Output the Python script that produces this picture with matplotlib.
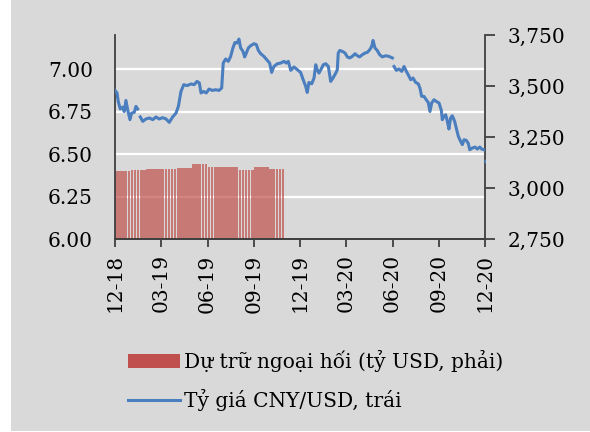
import matplotlib.pyplot as plt
from matplotlib.patches import Rectangle, Patch
from matplotlib.lines import Line2D
import numpy as np

plt.rcParams['font.family'] = ['DejaVu Serif', 'Liberation Serif']

# x = months since Dec 2018 (0 = 12-18, 24 = 12-20), NaN = gap in the series
fx_month = [0.00, 0.13, 0.21, 0.34, 0.50, 0.60, 0.71, 0.82, 0.97, 1.08, 1.25, 1.36, 1.47, np.nan,
            1.64, 1.80, 2.01, 2.22, 2.45, 2.66, 2.87, 3.09, 3.31, 3.52, 3.74, 3.96, 4.11, 4.28,
            4.46, 4.67, 4.93, 5.14, 5.32, 5.47, 5.58, 5.75, 5.92, 6.10, 6.31, 6.53, 6.75, 6.92,
            7.02, 7.18, 7.35, 7.50, 7.65, 7.78, 7.93, 8.04, 8.15, 8.30, 8.41, 8.52, 8.65, 8.80,
            9.02, 9.17, 9.30, 9.45, 9.66, 9.88, 10.03, 10.16, 10.31, 10.53, 10.75, 10.96, 11.11,
            11.24, 11.40, 11.61, 11.82, 12.04, 12.19, 12.37, 12.47, 12.58, 12.76, 12.91, 13.02,
            13.12, 13.23, 13.41, 13.51, 13.67, 13.84, 13.99, 14.14, 14.32, 14.42, 14.48, 14.58,
            14.74, 14.92, 15.07, 15.22, 15.39, 15.57, 15.72, 15.87, 16.04, 16.22, 16.37, 16.52,
            16.65, 16.74, 16.86, 17.01, 17.17, 17.34, 17.56, 17.77, 17.99, np.nan,
            18.10, 18.25, 18.42, 18.60, 18.75, 18.90, 19.02, 19.18, 19.33, 19.50, 19.67, 19.78,
            19.89, 20.04, 20.19, 20.32, 20.43, 20.54, 20.69, 20.84, 21.02, 21.17, 21.23, 21.34,
            21.45, 21.56, 21.66, 21.77, 21.88, 22.03, 22.16, 22.27, 22.42, 22.53, 22.64, 22.79,
            22.92, 23.01, 23.18, 23.35, 23.50, 23.66, 23.79, 23.94]
fx_rate = [6.874, 6.859, 6.809, 6.765, 6.776, 6.750, 6.815, 6.761, 6.702, 6.741, 6.745, 6.780, 6.765, np.nan,
           6.718, 6.692, 6.706, 6.712, 6.702, 6.718, 6.706, 6.714, 6.706, 6.686, 6.718, 6.741, 6.780, 6.868,
           6.908, 6.902, 6.912, 6.908, 6.927, 6.918, 6.859, 6.868, 6.859, 6.882, 6.874, 6.878, 6.874, 6.888,
           7.035, 7.059, 7.045, 7.074, 7.124, 7.156, 7.153, 7.176, 7.124, 7.104, 7.071, 7.094, 7.124, 7.137,
           7.149, 7.143, 7.109, 7.090, 7.074, 7.051, 7.035, 6.980, 7.015, 7.031, 7.035, 7.045, 7.035,
           7.045, 6.992, 7.012, 6.996, 6.980, 6.941, 6.898, 6.862, 6.921, 6.913, 6.947, 7.025,
           6.996, 6.976, 7.006, 7.025, 7.031, 7.015, 6.927, 6.947, 6.976, 6.996, 7.094, 7.109,
           7.104, 7.094, 7.071, 7.065, 7.074, 7.090, 7.078, 7.071, 7.084, 7.094, 7.098, 7.113,
           7.133, 7.168, 7.124, 7.109, 7.084, 7.071, 7.078, 7.074, 7.065, np.nan,
           7.015, 6.992, 7.000, 6.986, 7.015, 6.986, 6.966, 6.937, 6.947, 6.921, 6.913, 6.888,
           6.839, 6.839, 6.819, 6.803, 6.750, 6.800, 6.819, 6.809, 6.800, 6.756, 6.702, 6.721,
           6.731, 6.692, 6.647, 6.712, 6.725, 6.692, 6.643, 6.604, 6.574, 6.555, 6.584, 6.580,
           6.561, 6.525, 6.535, 6.541, 6.529, 6.541, 6.529, 6.525]
fx_last_month = 24.05
fx_last_rate = 6.456

# monthly FX reserves, bn USD (Dec 2018 .. Oct 2019)
res_month = [0, 1, 2, 3, 4, 5, 6, 7, 8, 9, 10]
reserves = [3084, 3087, 3094, 3092, 3098, 3117, 3102, 3103, 3089, 3102, 3092]

xtick_pos = [0, 3, 6, 9, 12, 15, 18, 21, 24]
xtick_lab = ['12-18', '03-19', '06-19', '09-19', '12-19', '03-20', '06-20', '09-20', '12-20']

bg = '#D9D9D9'
red = '#C0504D'
blue = '#4A7EBF'
spine_c = '#404040'
fs = 14.5

fig = plt.figure(figsize=(5.9, 4.32), dpi=100)
fig.patch.set_facecolor('white')
fig.patches.append(Rectangle((11 / 590, 1 / 432), 1 - 11 / 590, 1 - 1 / 432,
                             transform=fig.transFigure, facecolor=bg, edgecolor='none', zorder=-10))

ax = fig.add_axes([115 / 590, 1 - 239 / 432, 370 / 590, 204 / 432])
ax2 = ax.twinx()
ax.set_zorder(ax2.get_zorder() + 1)
ax.patch.set_visible(False)
ax2.patch.set_facecolor(bg)

# bars drawn as thin sub-bars like the daily bars in the source
n_sub = 5
for m, v in zip(res_month, reserves):
    pos = m + (np.arange(n_sub) + 0.5) / n_sub
    ax2.bar(pos, [v] * n_sub, width=0.85 / n_sub, bottom=0, color=red, alpha=0.7,
            linewidth=0, zorder=2)
ax2.set_ylim(2750, 3750)
ax2.set_yticks([2750, 3000, 3250, 3500, 3750])
ax2.set_yticklabels(['2,750', '3,000', '3,250', '3,500', '3,750'])

ax.plot(fx_month, fx_rate, color=blue, lw=2.2, zorder=3)
ax.plot([fx_last_month], [fx_last_rate], 'o', color=blue, ms=2.2, zorder=3)
ax.set_ylim(6.0, 7.2)
ax.set_yticks([6.0, 6.25, 6.5, 6.75, 7.0])
ax.set_yticklabels(['6.00', '6.25', '6.50', '6.75', '7.00'])
ax.set_xlim(0, 24)
ax.set_xticks(xtick_pos)
ax.set_xticklabels(xtick_lab, rotation=90)

# white gridlines on the left scale, drawn behind bars
for yv in [6.25, 6.5, 6.75, 7.0]:
    ax2.axhline(2750 + (yv - 6.0) / 1.2 * 1000, color='white', lw=1.6, zorder=1)

for a in (ax, ax2):
    a.spines['top'].set_visible(False)
    for s in ('left', 'right', 'bottom'):
        a.spines[s].set_color(spine_c)
        a.spines[s].set_linewidth(1.3)
ax.spines['right'].set_visible(False)
ax2.spines['left'].set_visible(False)

ax.tick_params(axis='y', length=0, labelsize=fs, pad=16)
ax.tick_params(axis='x', length=6, width=1.3, color=spine_c, labelsize=fs, pad=5, direction='out')
ax2.tick_params(axis='y', length=7, width=1.3, color=spine_c, labelsize=fs, pad=9, direction='out')

handles = [Patch(facecolor=red, edgecolor='none'),
           Line2D([0], [0], color=blue, lw=2.2)]
labels = ['Dự trữ ngoại hối (tỷ USD, phải)', 'Tỷ giá CNY/USD, trái']
fig.legend(handles, labels, loc='upper left', bbox_to_anchor=(120 / 590, 1 - 342 / 432),
           frameon=False, fontsize=fs, handlelength=2.6, handletextpad=0.2,
           labelspacing=0.85, borderaxespad=0)

fig.savefig('out.png', dpi=100, facecolor=fig.get_facecolor())
